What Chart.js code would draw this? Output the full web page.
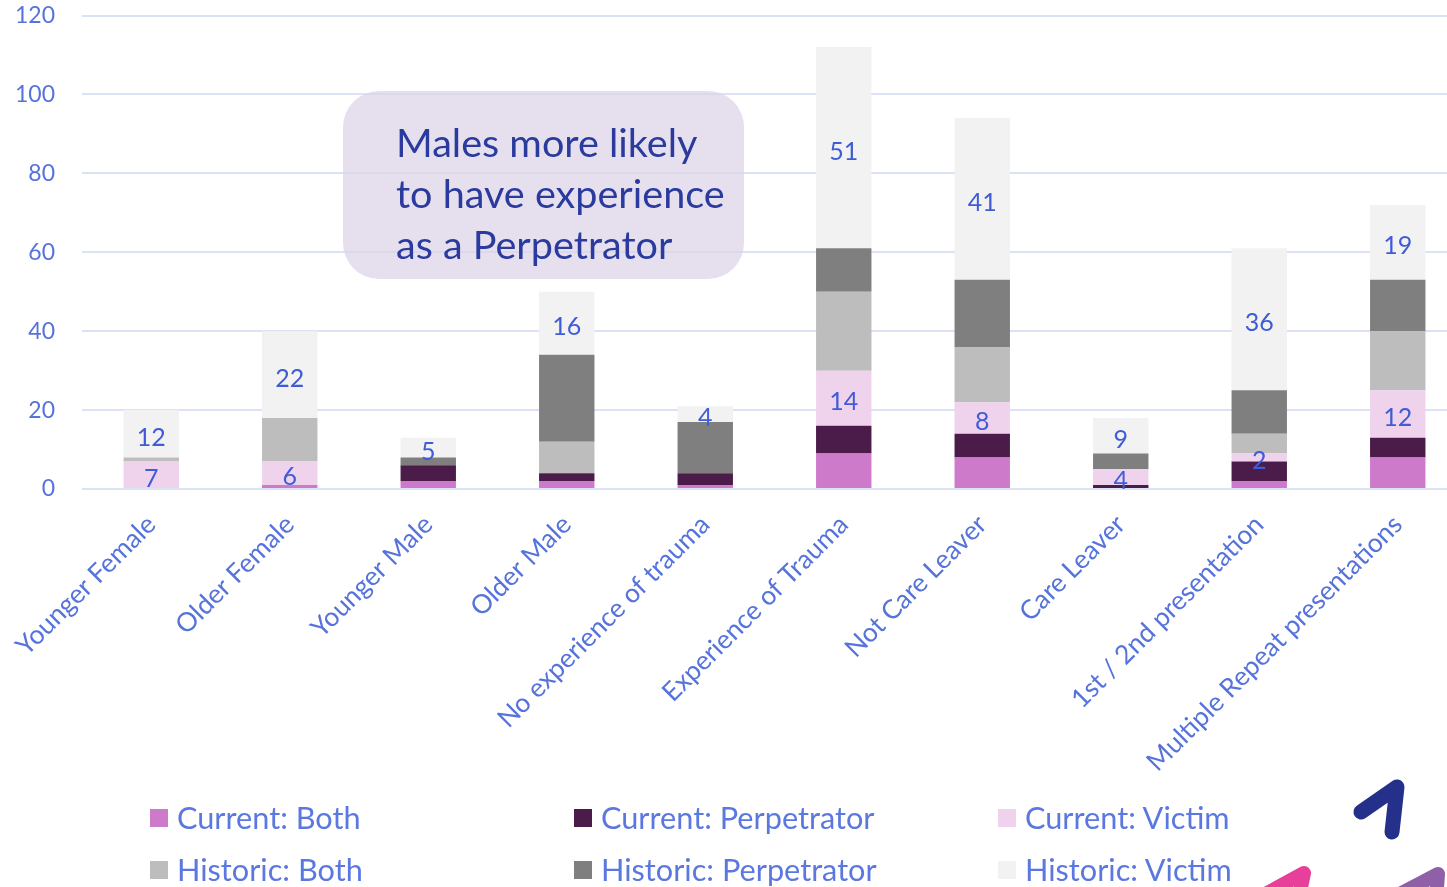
<!DOCTYPE html>
<html><head><meta charset="utf-8">
<script src="https://cdn.jsdelivr.net/npm/chart.js@4"></script>
<style>
html,body{margin:0;padding:0;background:#fff;overflow:hidden;width:1447px;height:887px}
#wrap{position:relative;width:1447px;height:887px;overflow:hidden;font-family:Lato,sans-serif}
canvas{position:absolute;left:0;top:0}
#note{position:absolute;left:343px;top:91px;width:401px;height:188px;box-sizing:border-box;background:rgba(221,212,232,.72);border-radius:36px;padding:25px 0 0 53px;color:#2B3A9E;font-size:39.6px;line-height:51px;white-space:nowrap}
#legend{position:absolute;left:150px;top:791px;display:grid;grid-template-columns:424px 424px 424px;grid-auto-rows:52px;color:#5B78E0;font-size:30.7px}
#legend div{display:flex;align-items:center;white-space:nowrap;height:52px}
#legend i{display:block;width:18px;height:18px;margin-right:9px;position:relative;top:1px}
svg{position:absolute;left:0;top:0}
</style></head><body>
<div id="wrap">
<canvas id="c" width="1480" height="887"></canvas>
<div id="note">Males more likely<br>to have experience<br>as a Perpetrator</div>
<div id="legend"></div>
<svg width="1447" height="887" fill="none" stroke-linecap="round" stroke-linejoin="round">
<path d="M1361 812L1397 787L1392 832" stroke="#24308A" stroke-width="15"/>
<path d="M1260 897L1304 873L1298 902" stroke="#E8409A" stroke-width="14"/>
<path d="M1394 897L1438 874L1436 902" stroke="#8F5FA8" stroke-width="14"/>
</svg>
</div>
<script>
const categories=["Younger Female","Older Female","Younger Male","Older Male","No experience of trauma","Experience of Trauma","Not Care Leaver","Care Leaver","1st / 2nd presentation","Multiple Repeat presentations"];
const currentBoth=[0,1,2,2,1,9,8,0,2,8];
const currentPerpetrator=[0,0,4,2,3,7,6,1,5,5];
const currentVictim=[7,6,0,0,0,14,8,4,2,12];
const historicBoth=[1,11,0,8,0,20,14,0,5,15];
const historicPerpetrator=[0,0,2,22,13,11,17,4,11,13];
const historicVictim=[12,22,5,16,4,51,41,9,36,19];
const yTicks=[0,20,40,60,80,100,120];
const seriesNames=["Current: Both","Current: Perpetrator","Current: Victim","Historic: Both","Historic: Perpetrator","Historic: Victim"];
const seriesColors=["#CE7ACB","#4B1C4A","#EFD3ED","#BDBDBD","#7F7F7F","#F2F2F2"];
const seriesValues=[currentBoth,currentPerpetrator,currentVictim,historicBoth,historicPerpetrator,historicVictim];
const labelledSeries=[2,5];

const valueLabels={id:'valueLabels',afterDatasetsDraw(ch){
  const x=ch.ctx;x.save();x.font='25px Lato';x.fillStyle='#3F5BD6';x.textAlign='center';x.textBaseline='middle';
  labelledSeries.forEach(s=>{ch.getDatasetMeta(s).data.forEach((el,i)=>{
    const v=seriesValues[s][i];if(!v)return;
    const c=el.getCenterPoint();x.fillText(String(v),c.x,c.y+4);
  });});
  x.restore();
}};

new Chart(document.getElementById('c'),{
  type:'bar',
  data:{labels:categories,datasets:seriesNames.map((n,i)=>({label:n,data:seriesValues[i],backgroundColor:seriesColors[i],stack:'s',borderWidth:0,barPercentage:0.8,categoryPercentage:0.5}))},
  options:{responsive:false,animation:false,
    layout:{padding:{top:15.5,left:0,right:13,bottom:0}},
    plugins:{legend:{display:false},tooltip:{enabled:false}},
    scales:{
      x:{stacked:true,afterFit(s){s.height=398;s.paddingLeft=0;s.paddingRight=0;s.paddingTop=0;s.paddingBottom=0;},
        grid:{display:false},border:{display:false},
        ticks:{autoSkip:false,minRotation:45,maxRotation:45,padding:12,color:'#5673DC',font:{family:'Lato',size:26.4}}},
      y:{stacked:true,min:0,max:120,afterFit(s){s.width=82;s.paddingTop=0;s.paddingBottom=0;s.paddingLeft=0;s.paddingRight=0;},
        afterBuildTicks(s){s.ticks=yTicks.map(v=>({value:v}));},
        grid:{color:'#DCE2F6',lineWidth:2,drawTicks:false},border:{display:false},
        ticks:{padding:27,color:'#5673DC',font:{family:'Lato',size:23}}}
    }},
  plugins:[valueLabels]
});
const lg=document.getElementById('legend');
seriesNames.forEach((n,i)=>{const d=document.createElement('div');const b=document.createElement('i');b.style.background=seriesColors[i];d.appendChild(b);d.appendChild(document.createTextNode(n));lg.appendChild(d);});
</script>
</body></html>
